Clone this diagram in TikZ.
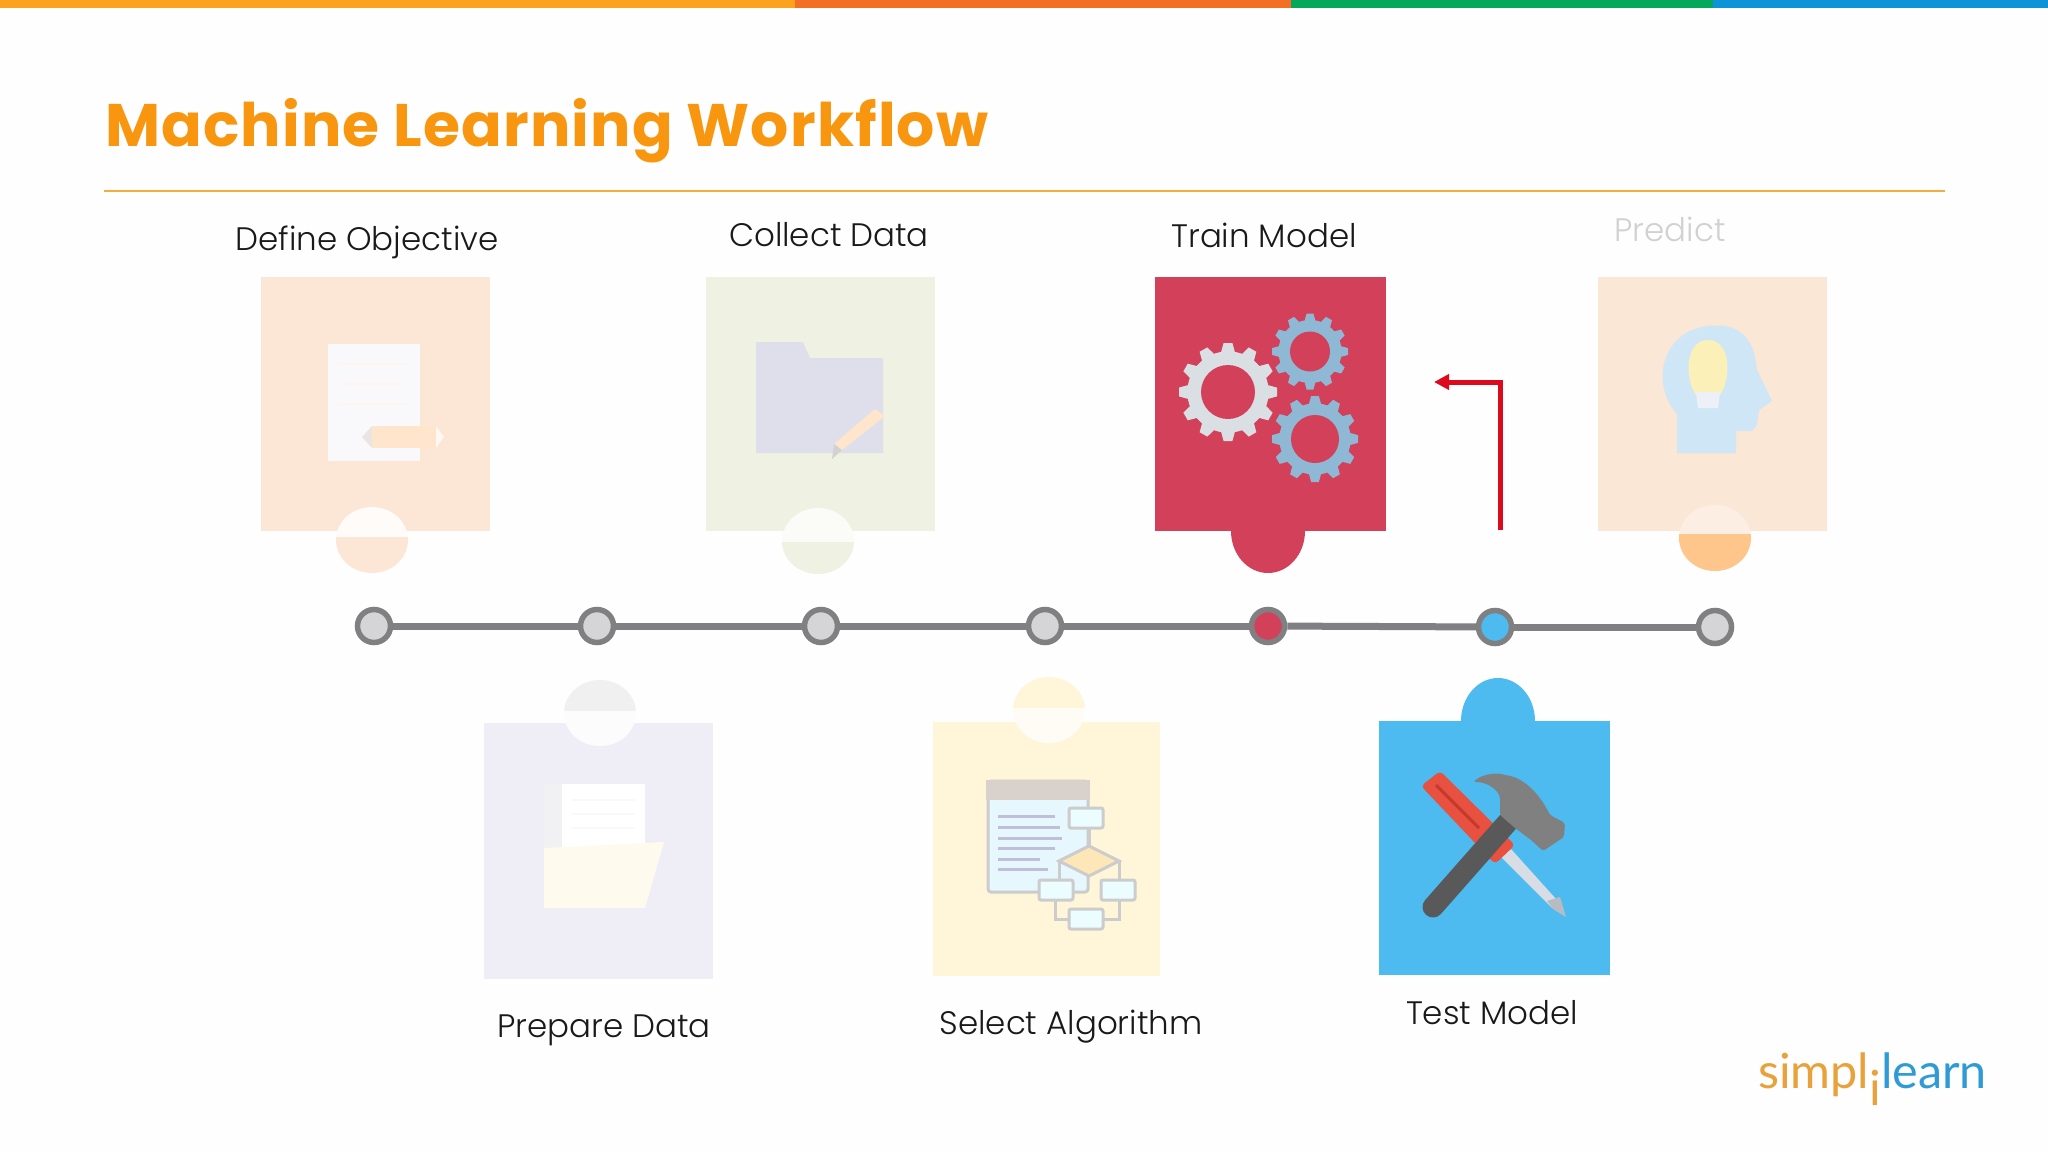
\documentclass[tikz,border=0pt]{standalone}
\usepackage{fontspec}
\setmainfont{Poppins}
\newfontfamily\titlefont{Poppins}[UprightFont=* Bold,LetterSpace=1.9]
\newfontfamily\labelfont{Poppins Light}
\newfontfamily\logofont{Lato}
\usetikzlibrary{arrows.meta}
\definecolor{pagewhite}{HTML}{FEFEFE}
\definecolor{barorange}{HTML}{FBA31F}
\definecolor{barred}{HTML}{F36F26}
\definecolor{bargreen}{HTML}{05A85A}
\definecolor{barblue}{HTML}{0C93D8}
\definecolor{titleorange}{HTML}{F9960F}
\definecolor{rulegold}{HTML}{F2AE3F}
\definecolor{defcard}{HTML}{FCE7D7}
\definecolor{colcard}{HTML}{EFF1E2}
\definecolor{traincard}{HTML}{D2405A}
\definecolor{predcard}{HTML}{FBE7D5}
\definecolor{prepcard}{HTML}{EFEEF7}
\definecolor{selcard}{HTML}{FFF5D9}
\definecolor{testcard}{HTML}{4DBBF0}
\definecolor{dotring}{HTML}{808083}
\definecolor{dotfill}{HTML}{D5D5D8}
\definecolor{arrowred}{HTML}{DD0A1E}
\definecolor{gearwhite}{HTML}{DADFE4}
\definecolor{gearblue}{HTML}{8EB8D3}
\definecolor{logoorange}{HTML}{E9A23B}
\definecolor{logoblue}{HTML}{2E9BD6}
\tikzset{
  cardbox/.style={rectangle,inner sep=0pt,minimum width=229pt,minimum height=254pt},
  stepdot/.style={circle,draw=dotring,line width=5.5pt,fill=dotfill,inner sep=0pt,minimum size=33pt},
  steplabel/.style={anchor=base,inner sep=0pt,font=\labelfont\fontsize{32.5}{32.5}\selectfont,text=black!90},
}
% gear: x, y, outer radius, inner radius, colour, card colour
\newcommand{\gearicon}[6]{
  \begin{scope}[shift={(#1,#2)}]
    \foreach \a in {0,30,...,330}
      \fill[#5,rotate=\a] ({-0.15*#3},{0.78*#3}) -- ({-0.09*#3},{#3}) -- ({0.09*#3},{#3}) -- ({0.15*#3},{0.78*#3}) -- cycle;
    \fill[#5] (0,0) circle ({0.83*#3});
    \fill[#6] (0,0) circle (#4);
  \end{scope}
}
% knob of a card: x, y, split line, colour over the line, colour under it
\newcommand{\cardknob}[5]{
  \begin{scope}
    \clip (#1,#2) ellipse [x radius=36,y radius=33];
    \fill[#4] (#1-40,#2-40) rectangle (#1+40,#3);
    \fill[#5] (#1-40,#3) rectangle (#1+40,#2+40);
  \end{scope}
}
\begin{document}
\begin{tikzpicture}[x=1pt,y=-1pt]
  \fill[pagewhite] (0,0) rectangle (2048,1152);
  \useasboundingbox (0,0) rectangle (2048,1152);

  % Barra superior
  \fill[barorange] (0,0) rectangle (795,8);
  \fill[barred] (795,0) rectangle (1291,8);
  \fill[bargreen] (1291,0) rectangle (1713,8);
  \fill[barblue] (1713,0) rectangle (2048,8);

  % Titulo
  \node[anchor=base west,inner sep=0pt,text=titleorange,font=\titlefont\fontsize{60}{60}\selectfont] (title) at (105,146) {Machine Learning Workflow};
  \coordinate (ruleL) at (104,190.5);
  \coordinate (ruleR) at (1945,190.5);
  \draw[rulegold,line width=2pt] (ruleL) -- (ruleR);

  % Tarjetas
  \node[cardbox,fill=defcard] (defineCard) at (375.5,403.5) {};
  \node[cardbox,fill=colcard] (collectCard) at (820,403.5) {};
  \node[cardbox,fill=traincard,minimum width=231pt] (trainCard) at (1270,403.5) {};
  \node[cardbox,fill=predcard] (predictCard) at (1712,403.5) {};
  \node[cardbox,fill=prepcard,minimum height=256pt] (prepareCard) at (598,851) {};
  \node[cardbox,fill=selcard,minimum width=227pt] (selectCard) at (1046.5,848.5) {};
  \node[cardbox,fill=testcard,minimum width=231pt] (testCard) at (1494.5,848) {};

  \cardknob{372}{540}{537}{white!85!defcard}{defcard}
  \cardknob{818}{541}{542}{white!75!colcard}{colcard}
  \fill[traincard] (1268,531) ellipse [x radius=37,y radius=42];
  \cardknob{1715}{538}{534}{predcard!70!white}{orange!45!white}
  \cardknob{600}{713}{711}{prepcard!60!gray!25!white}{white!80!prepcard}
  \cardknob{1049}{710}{708}{selcard}{white!75!selcard}
  \fill[testcard] (1498,721) ellipse [x radius=37,y radius=43];

  % Etiquetas
  \node[steplabel] (defineText) at (367,250) {Define Objective};
  \node[steplabel] (collectText) at (829,246) {Collect Data};
  \node[steplabel] (trainText) at (1264,247) {Train Model};
  \node[steplabel,text=black!18] (predictText) at (1670,241) {Predict};
  \node[steplabel] (prepareText) at (604,1037) {Prepare Data};
  \node[steplabel] (selectText) at (1071,1034) {Select Algorithm};
  \node[steplabel] (testText) at (1492,1024) {Test Model};

  % Linea de tiempo
  \node[stepdot] (dot1) at (374,626) {};
  \node[stepdot] (dot2) at (597,626) {};
  \node[stepdot] (dot3) at (821,626) {};
  \node[stepdot] (dot4) at (1045,626) {};
  \node[stepdot,fill=traincard] (dot5) at (1268,626) {};
  \node[stepdot,fill=testcard] (dot6) at (1495,627) {};
  \node[stepdot] (dot7) at (1715,627) {};
  \foreach \i/\j in {1/2,2/3,3/4,4/5,5/6,6/7}
    \draw[dotring,line width=7pt] (dot\i) -- (dot\j);

  % Flecha roja
  \coordinate (loopStart) at (1500,530);
  \coordinate (loopEnd) at (1434,382);
  \draw[arrowred,line width=5pt,-{Triangle[length=15pt,width=15pt]}] (loopStart) |- (loopEnd);

  % Icono objetivo
  \definecolor{paperwhite}{HTML}{F9F9FB}
  \fill[paperwhite] (328,344) rectangle (420,461);
  \foreach \y in {364,384,404}
    \draw[defcard!40!white,line width=1.5pt] (340,\y) -- (405,\y);
  \fill[orange!20!white] (372,426) rectangle (436,448);
  \fill[defcard!60!gray!40!white] (362,437) -- (372,426) -- (372,448) -- cycle;
  \fill[white!70!defcard] (436,426) -- (444,437) -- (436,448) -- cycle;

  % Icono carpeta
  \fill[blue!25!gray!20!white] (756,342) -- (803,342) -- (810,358) -- (883,358) -- (883,453) -- (756,453) -- cycle;
  \fill[orange!20!white] (875,409) -- (885,416) -- (842,450) -- (834,444) -- cycle;
  \fill[gray!35!white] (834,444) -- (842,450) -- (832,459) -- cycle;

  % Icono engranajes
  \gearicon{1228}{392}{49}{27}{gearwhite}{traincard}
  \gearicon{1310}{351.5}{38}{20}{gearblue}{traincard}
  \gearicon{1315}{439}{43}{24}{gearblue}{traincard}

  % Icono cabeza
  \definecolor{headblue}{HTML}{CFE6F7}
  \definecolor{bulbyellow}{HTML}{FBF0B8}
  \definecolor{bulbbase}{HTML}{EEF0F7}
  \fill[headblue] (1677,453) -- (1677,414) .. controls (1650,385) and (1660,326) .. (1716,325.5)
    .. controls (1745,325) and (1755,345) .. (1757,370) -- (1772,401) -- (1759,410) -- (1757,425) -- (1752,431) -- (1736,431) -- (1736,453) -- cycle;
  \fill[bulbyellow] (1708,340) .. controls (1684,340) and (1685,380) .. (1696,395) -- (1720,395) .. controls (1731,380) and (1732,340) .. (1708,340) -- cycle;
  \fill[bulbbase] (1696,392) -- (1720,392) -- (1718,408) -- (1698,408) -- cycle;

  % Icono datos
  \definecolor{foldercream}{HTML}{FEFBEE}
  \fill[blue!10!gray!10!white] (544,784) -- (570,784) -- (570,908) -- (544,908) -- cycle;
  \fill[white] (562,784) rectangle (645,848);
  \foreach \y in {800,814,828}
    \draw[prepcard!40!white,line width=1.5pt] (572,\y) -- (635,\y);
  \fill[foldercream] (544,848) -- (664,842) -- (645,908) -- (544,908) -- cycle;

  % Icono algoritmo
  \definecolor{flowgrey}{HTML}{CCCCCC}
  \filldraw[draw=flowgrey,fill=cyan!10!white,line width=3pt,rounded corners=3pt] (988,781) rectangle (1088,892);
  \fill[orange!15!gray!35!white] (986,780) rectangle (1090,800);
  \foreach \y/\e in {816/1055,827/1060,838/1062,848/1055,859/1040,869/1048}
    \draw[blue!25!gray!40!white,line width=3pt] (998,\y) -- (\e,\y);
  \draw[flowgrey,line width=3pt] (1089,828) -- (1089,846) (1059,861) -- (1059,880) (1119,861) -- (1119,880) (1055,900) -- (1055,919) -- (1069,919) (1119,900) -- (1119,919) -- (1104,919);
  \filldraw[draw=flowgrey,fill=yellow!30!orange!25!white,line width=3pt] (1089,846) -- (1119,861) -- (1089,876) -- (1059,861) -- cycle;
  \foreach \x/\y in {1069/808,1039/880,1101/880,1069/909}
    \filldraw[draw=flowgrey,fill=blue!12!cyan!8!white,line width=3pt,rounded corners=2pt] (\x,\y) rectangle (\x+34,\y+20);

  % Icono herramientas
  \definecolor{shaftgrey}{HTML}{D8DCE4}
  \definecolor{handlered}{HTML}{E8503F}
  \definecolor{slotred}{HTML}{C43B2E}
  \fill[shaftgrey] (1501,857) -- (1511,849) -- (1556,899) -- (1552,908) -- cycle;
  \fill[shaftgrey!85!black] (1547,901) -- (1560,897) -- (1566,917) -- (1553,909) -- cycle;
  \fill[handlered,rounded corners=4pt] (1421,786) -- (1440,771) -- (1515,845) -- (1495,864) -- cycle;
  \draw[slotred,line width=3pt] (1436,785) -- (1479,828);
  \draw[black!65,line width=21pt,line cap=round] (1507,823) -- (1433,907);
  \fill[black!50,rounded corners=2pt] (1474,782) .. controls (1480,775) and (1495,772) .. (1505,775)
    .. controls (1525,778) and (1540,795) .. (1550,815) -- (1565,823) -- (1564,837) -- (1543,851) -- (1531,840) -- (1515,828) -- (1500,815) -- (1500,797) .. controls (1497,790) and (1488,782) .. (1474,782) -- cycle;

  % Logo
  \node[anchor=base west,inner sep=0pt,font=\logofont\fontsize{48.5}{48.5}\selectfont] (logo) at (1758,1088) {\color{logoorange}simpl\raisebox{-17pt}{i}\color{logoblue}learn};
\end{tikzpicture}
\end{document}
